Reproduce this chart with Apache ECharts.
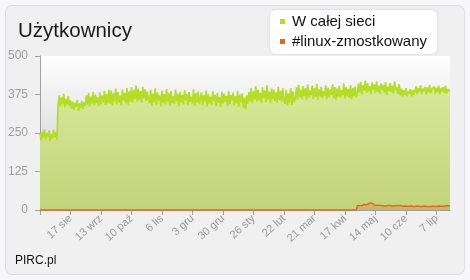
<!DOCTYPE html>
<html><head><meta charset="utf-8">
<script src="https://cdn.jsdelivr.net/npm/echarts@6/dist/echarts.min.js"></script>
<style>
html,body{margin:0;padding:0;background:#f7f7f9;width:470px;height:280px;overflow:hidden}
#card{position:absolute;left:5px;top:5px;width:458px;height:268px;border:1px solid #dedede;border-radius:7px;background:#f0f0f0}
#chart{position:absolute;left:0;top:0;width:470px;height:280px}
</style></head><body>
<div id="card"></div>
<div id="chart"></div>
<script>
// x values are day indices counted from 21 Jul; ticks every 27 days
const tickLabels = ['17 sie','13 wrz','10 paź','6 lis','3 gru','30 gru','26 sty','22 lut','21 mar','17 kwi','14 maj','10 cze','7 lip'];
const seriesNames = ['W całej sieci', '#linux-zmostkowany'];
// daily users, whole network (day 0 .. 363)
const networkUsers = [
  248,226,255,234,262,229,250,238,258,224,246,232,260,236,252,228,
  340,372,336,365,345,377,333,360,342,370,338,356,
  330,352,324,348,335,357,322,346,332,354,328,350,
  338,372,342,380,336,368,345,384,340,375,348,366,337,382,344,371,350,387,341,376,347,390,
  345,388,340,379,352,394,343,383,349,372,339,391,355,380,346,396,342,385,
  352,398,349,390,360,405,351,394,356,386,348,400,362,392,354,384,358,
  346,390,338,378,350,395,341,382,355,372,336,388,348,376,343,393,352,380,339,386,347,370,344,391,353,378,337,384,349,374,342,389,356,377,340,383,351,368,345,392,338,379,350,385,343,
  347,382,339,372,352,388,336,376,345,368,341,385,354,374,338,380,349,366,334,384,346,377,351,370,337,386,343,373,355,381,340,369,348,387,335,375,350,379,332,364,327,372,345,384,
  352,396,348,385,360,402,351,390,356,380,347,398,363,388,350,405,358,384,346,394,361,391,353,382,349,400,357,387,352,395,355,
  344,390,339,378,347,396,341,385,350,
  362,398,358,406,366,390,360,402,370,395,359,408,364,388,372,404,361,396,367,410,358,392,369,400,363,386,371,405,360,397,366,391,374,408,362,399,357,394,368,403,365,389,373,411,361,398,369,393,364,406,359,396,370,401,366,
  378,410,382,416,376,405,388,420,380,412,386,402,375,414,391,408,379,418,384,403,377,411,389,406,381,415,374,400,387,413,383,404,378,417,390,398,376,409,
  372,394,368,388,375,396,370,385,378,392,369,390,374,
  380,402,376,396,384,405,378,394,386,400,375,398,382,406,379,393,387,401,377,397,383,404,376,395,385,399,380,403,378,392,388,386
];
// channel users: zero until day 280, daily values from day 281
const channelStartDay = 281;
const channelUsers = [
  14,16,15,17,14,16,18,15,17,16,
  21,18,23,19,20,17,
  15,13,16,14,15,12,14,16,13,15,14,13,15,12,14,16,13,14,15,13,14,12,15,13,
  12,11,13,11,12,10,12,11,13,12,11,10,12,11,12,13,11,10,12,11,12,10,11,12,11,13,12,11,12,10,11,12,13,11,12,13,12,11,13,12,14,13,14
];
const yTicks = {min:0, max:500, interval:125};

const netData = networkUsers.map((v,i)=>[i,v]);
const chanData = [[0,0],[channelStartDay-1,0]].concat(channelUsers.map((v,i)=>[channelStartDay+i,v]));
const lastDay = networkUsers.length - 1;

const font = "'Liberation Sans', Arial, sans-serif";
const chart = echarts.init(document.getElementById('chart'), null, {renderer:'canvas'});
chart.setOption({
  animation:false,
  textStyle:{fontFamily:font},
  title:{text:'Użytkownicy', left:13, top:16, textStyle:{fontSize:20.5, fontWeight:'normal', color:'#1a1a1a', fontFamily:font}},
  legend:{
    orient:'vertical', left:270, top:10,
    padding:[4,10,5,10], itemGap:5, itemWidth:5, itemHeight:5, icon:'rect',
    backgroundColor:'#ffffff', borderRadius:6, shadowBlur:3, shadowColor:'rgba(0,0,0,0.12)',
    textStyle:{fontSize:15, color:'#111', fontFamily:font, padding:[0,0,0,2]},
    data:[{name:seriesNames[0], itemStyle:{color:'#b5d930'}},{name:seriesNames[1], itemStyle:{color:'#e2642c'}}]
  },
  grid:{left:40, right:20, top:56, bottom:70, show:true, borderWidth:0,
    backgroundColor:new echarts.graphic.LinearGradient(0,0,0,1,[{offset:0,color:'#ffffff'},{offset:1,color:'#c4c4c4'}])},
  graphic:[{type:'text', left:15, top:255, style:{text:'PIRC.pl', fontSize:12, fill:'#111', fontFamily:font}}],
  xAxis:{type:'value', min:0, max:lastDay, interval:27,
    axisLine:{show:true, lineStyle:{color:'#a0a0a0'}},
    axisTick:{show:true, length:5, lineStyle:{color:'#a0a0a0'}},
    splitLine:{show:false},
    axisLabel:{rotate:42, color:'#999', fontSize:11, margin:7, fontFamily:font, showMinLabel:true,
      formatter:v=>{const k=Math.round(v/27)-1; return (k>=0 && k<tickLabels.length)?tickLabels[k]:'';}}
  },
  yAxis:{type:'value', min:yTicks.min, max:yTicks.max, interval:yTicks.interval,
    axisLine:{show:true, lineStyle:{color:'#a0a0a0'}},
    axisTick:{show:true, length:5, lineStyle:{color:'#a0a0a0'}},
    splitLine:{show:false},
    axisLabel:{color:'#a0a0a0', fontSize:12, margin:12, fontFamily:font}
  },
  series:[
    {name:seriesNames[0], type:'line', data:netData, symbol:'none', sampling:null,
      lineStyle:{width:1.7, color:'#b6dc2a'},
      itemStyle:{color:'#b5d930'},
      areaStyle:{color:new echarts.graphic.LinearGradient(0,0,0,1,[{offset:0,color:'#d8e99a'},{offset:1,color:'#c2d37a'}]), opacity:1},
      z:2},
    {name:seriesNames[1], type:'line', data:chanData, symbol:'none',
      lineStyle:{width:1.4, color:'#e8632a'},
      itemStyle:{color:'#e2642c'},
      areaStyle:{color:'rgba(226,100,40,0.35)'},
      z:3}
  ]
});
</script>
</body></html>
